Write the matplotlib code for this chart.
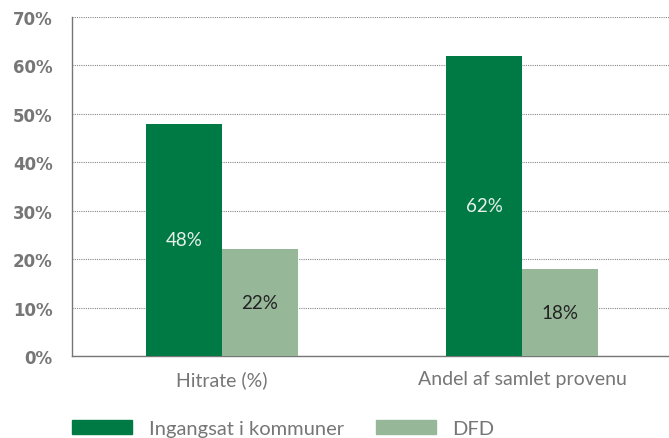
import matplotlib
matplotlib.use("Agg")
import matplotlib.pyplot as plt
import numpy as np
from matplotlib.patches import Patch

categories = ["Hitrate (%)", "Andel af samlet provenu"]
series_names = ["Ingangsat i kommuner", "DFD"]
kommuner = [48, 62]
dfd = [22, 18]
yticks = [0, 10, 20, 30, 40, 50, 60, 70]

c1 = "#007A45"
c2 = "#97B799"
grey = "#767676"

fig = plt.figure(figsize=(6.69, 4.39), dpi=100)
ax = fig.add_axes([72/669, 1-357/439, 600/669, 339/439])

x = np.arange(len(categories))
w = 0.252
b1 = ax.bar(x - w/2, kommuner, w, color=c1, zorder=3)
b2 = ax.bar(x + w/2, dfd, w, color=c2, zorder=3)

for rect, v in zip(b1, kommuner):
    ax.text(rect.get_x() + rect.get_width()/2, v/2, f"{v}%", ha="center", va="center",
            color="#E8F0EA", fontsize=13.5, family="Lato", zorder=4)
for rect, v in zip(b2, dfd):
    ax.text(rect.get_x() + rect.get_width()/2, v/2, f"{v}%", ha="center", va="center",
            color="#222222", fontsize=13.5, family="Lato", zorder=4)

ax.set_xlim(-0.5, 1.5)
ax.set_ylim(0, 70)
ax.set_yticks(yticks)
ax.set_yticklabels([f"{t}%" for t in yticks], fontsize=12, fontweight="bold", color=grey,
                   family="DejaVu Sans")
ax.set_xticks(x)
ax.set_xticklabels(categories, fontsize=14, color=grey, family="Lato")
ax.tick_params(axis="both", length=0)
ax.tick_params(axis="y", pad=14)
ax.tick_params(axis="x", pad=10)

ax.grid(axis="y", linestyle=(0, (1, 1)), color="#888888", linewidth=0.8, zorder=0)
for s in ["top", "right"]:
    ax.spines[s].set_visible(False)
ax.spines["left"].set_color(grey)
ax.spines["bottom"].set_color(grey)
ax.spines["left"].set_linewidth(1.0)
ax.spines["bottom"].set_linewidth(1.0)

handles = [Patch(color=c1), Patch(color=c2)]
leg = fig.legend(handles, series_names, loc="lower left", bbox_to_anchor=(72/669, 1/439),
                 ncol=2, frameon=False, handlelength=3.0, handleheight=0.75,
                 columnspacing=1.6, handletextpad=0.8, borderpad=0, borderaxespad=0,
                 prop={"family": "Lato", "size": 14.5})
for t in leg.get_texts():
    t.set_color(grey)

fig.savefig("out.png", dpi=100)
